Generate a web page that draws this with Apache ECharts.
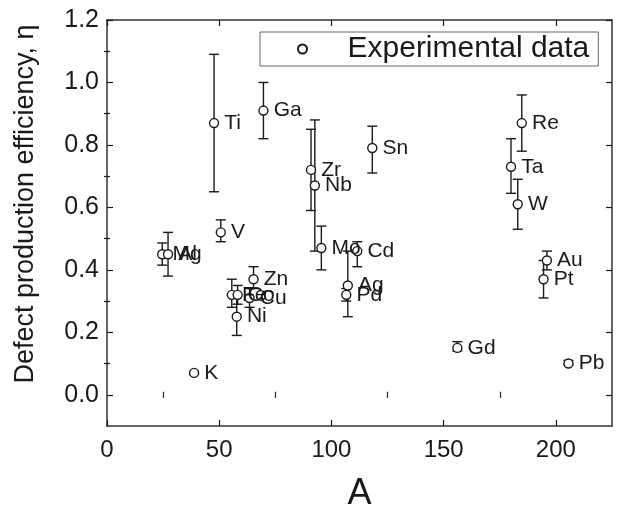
<!DOCTYPE html>
<html>
<head>
<meta charset="utf-8">
<script src="https://cdn.jsdelivr.net/npm/echarts@6/dist/echarts.min.js"></script>
<style>
  html, body { margin: 0; padding: 0; background: #fff; }
  #chart { width: 617px; height: 506px; }
</style>
</head>
<body>
<div id="chart"></div>
<script>
// values
const elements = ['K', 'Mg', 'Al', 'Ti', 'V', 'Ga', 'Zn', 'Fe', 'Co', 'Ni', 'Cu', 'Zr', 'Nb', 'Mo', 'Pd', 'Ag', 'Cd', 'Sn', 'Gd', 'Ta', 'W', 'Re', 'Pt', 'Au', 'Pb'];
const massA = [38.8, 24.6, 27.2, 47.7, 50.7, 69.7, 65.3, 55.6, 58.2, 57.8, 63.5, 90.9, 92.6, 95.5, 106.6, 107.3, 111.5, 118.2, 156.1, 180, 183, 184.8, 194.5, 196, 205.6];
const eta = [0.07, 0.45, 0.45, 0.87, 0.52, 0.91, 0.37, 0.32, 0.32, 0.25, 0.31, 0.72, 0.67, 0.47, 0.32, 0.35, 0.46, 0.79, 0.15, 0.73, 0.61, 0.87, 0.37, 0.43, 0.10];
const etaLow = [0.065, 0.415, 0.38, 0.65, 0.49, 0.82, 0.34, 0.28, 0.29, 0.19, 0.28, 0.59, 0.46, 0.40, 0.30, 0.25, 0.41, 0.71, 0.14, 0.645, 0.53, 0.78, 0.31, 0.40, 0.095];
const etaHigh = [0.075, 0.486, 0.52, 1.09, 0.56, 1.00, 0.41, 0.37, 0.35, 0.31, 0.34, 0.85, 0.88, 0.54, 0.34, 0.46, 0.49, 0.86, 0.17, 0.82, 0.69, 0.96, 0.43, 0.46, 0.11];

const xMajor = [0, 50, 100, 150, 200];
const xMinor = [25, 75, 125, 175];
const yMajor = [0, 0.2, 0.4, 0.6, 0.8, 1.0, 1.2];
const yMinor = [0.1, 0.3, 0.5, 0.7, 0.9, 1.1];

const font = 'Liberation Sans, Arial, sans-serif';
const ink = '#1a1a1a';

let pointData = [];
let barData = [];
for (var i = 0; i < elements.length; i++) {
  pointData.push([massA[i], eta[i]]);
  barData.push([massA[i], etaLow[i], etaHigh[i]]);
}

function makeXAxis(pos, ticks, len, opts) {
  return Object.assign({
    type: 'value', position: pos, min: 0, max: 225,
    axisLine: { show: false },
    axisTick: { show: true, inside: true, length: len, customValues: ticks, lineStyle: { color: ink, width: 1.2 } },
    axisLabel: { show: false },
    splitLine: { show: false }
  }, opts || {});
}

function makeYAxis(pos, ticks, len, opts) {
  return Object.assign({
    type: 'value', position: pos, min: -0.1, max: 1.2,
    axisLine: { show: false },
    axisTick: { show: true, inside: true, length: len, customValues: ticks, lineStyle: { color: ink, width: 1.2 } },
    axisLabel: { show: false },
    splitLine: { show: false }
  }, opts || {});
}

const borderLine = { show: true, onZero: false, lineStyle: { color: '#333', width: 1.5 } };

const option = {
  animation: false,
  grid: { left: 107, right: 5, top: 20, bottom: 80, containLabel: false, outerBoundsMode: 'none' },
  legend: {
    left: 260, top: 32,
    padding: [2, 9, 2, 37],
    borderColor: '#666', borderWidth: 1,
    itemWidth: 80, itemHeight: 9, itemGap: 0,
    selectedMode: false,
    textStyle: { fontFamily: font, fontSize: 30, color: ink },
    data: ['Experimental data']
  },
  xAxis: [
    makeXAxis('bottom', xMajor, 6, {
      axisLine: borderLine,
      axisLabel: { show: true, customValues: xMajor, margin: 12, fontFamily: font, fontSize: 24, color: ink },
      name: 'A', nameLocation: 'middle', nameGap: 50,
      nameTextStyle: { fontFamily: font, fontSize: 36, color: ink }
    }),
    makeXAxis('bottom', xMinor, 3),
    makeXAxis('top', xMajor, 6, { axisLine: borderLine }),
    makeXAxis('top', xMinor, 3)
  ],
  yAxis: [
    makeYAxis('left', yMajor, 6, {
      axisLine: borderLine,
      axisLabel: {
        show: true, customValues: yMajor, margin: 8, fontFamily: font, fontSize: 25, color: ink,
        formatter: v => v.toFixed(1)
      },
      name: 'Defect production efficiency, \u03b7', nameLocation: 'middle', nameGap: 68,
      nameTextStyle: { fontFamily: font, fontSize: 27, color: ink, padding: [0, 0, 0, 38] }
    }),
    makeYAxis('left', yMinor, 3),
    makeYAxis('right', yMajor, 6, { axisLine: borderLine }),
    makeYAxis('right', yMinor, 3)
  ],
  series: [
    {
      type: 'custom',
      name: 'errors',
      xAxisIndex: 0, yAxisIndex: 0,
      z: 2,
      renderItem: function (params, api) {
        let top = api.coord([api.value(0), api.value(2)]);
        let bot = api.coord([api.value(0), api.value(1)]);
        let w = 5;
        let st = { stroke: ink, lineWidth: 1.4 };
        return {
          type: 'group',
          children: [
            { type: 'line', shape: { x1: top[0], y1: top[1], x2: bot[0], y2: bot[1] }, style: st },
            { type: 'line', shape: { x1: top[0] - w, y1: top[1], x2: top[0] + w, y2: top[1] }, style: st },
            { type: 'line', shape: { x1: bot[0] - w, y1: bot[1], x2: bot[0] + w, y2: bot[1] }, style: st }
          ]
        };
      },
      data: barData
    },
    {
      type: 'scatter',
      name: 'Experimental data',
      xAxisIndex: 0, yAxisIndex: 0,
      z: 3,
      symbol: 'circle',
      symbolSize: 9,
      itemStyle: { color: '#fff', borderColor: ink, borderWidth: 1.4, opacity: 1 },
      label: {
        show: true, position: 'right', distance: 5,
        fontFamily: font, fontSize: 21, color: ink,
        formatter: p => elements[p.dataIndex]
      },
      emphasis: { disabled: true },
      data: pointData
    }
  ]
};

const chart = echarts.init(document.getElementById('chart'));
chart.setOption(option);
</script>
</body>
</html>
